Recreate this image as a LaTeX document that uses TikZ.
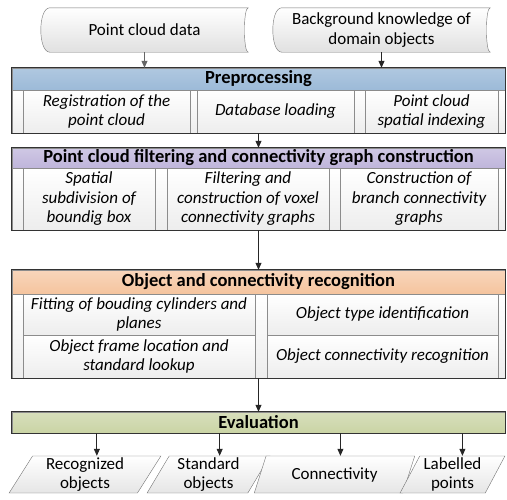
\documentclass[tikz,border=0pt]{standalone}
\usepackage{fontspec}
\setmainfont{Carlito}
\usetikzlibrary{shapes.geometric,arrows.meta,positioning}
\definecolor{prepblue}{HTML}{9CBAD8}
\definecolor{filtlilac}{HTML}{BFB5DB}
\definecolor{recogorange}{HTML}{F5C49E}
\definecolor{evalgreen}{HTML}{CAD4A5}
\newcommand{\sz}{\fontsize{17}{19.5}\selectfont}
\newcommand{\szb}{\fontsize{18.5}{21}\selectfont}

\begin{document}
\begin{tikzpicture}[x=1pt,y=-1pt,
	txt/.style={font=\sz,align=center,inner sep=0pt},
	store/.style={txt,minimum height=44pt},
	storeline/.style={draw=black!55,top color=white,bottom color=black!12},
	title/.style={txt,font=\szb\bfseries,draw=black!45,minimum width=493pt},
	cell/.style={txt,font=\sz\itshape,draw=black!45,top color=white,bottom color=black!7},
	row/.style={draw=black!45,top color=white,bottom color=black!7,minimum width=493pt,inner sep=0pt},
	frame/.style={draw=black!80,thick},
	arr/.style={thick,black!85,-{Triangle[length=7pt,width=6pt]}},
	outbox/.style={txt,trapezium,trapezium left angle=63,trapezium right angle=117,trapezium stretches=true,draw=black!55,top color=white,bottom color=black!10,minimum height=37pt}]
	\useasboundingbox (0,0) rectangle (507,499);

	\node[store,minimum width=207pt] (pcd) at (144.5,30) {};
	\node[store,minimum width=217pt] (bkg) at (381.5,30) {};
	\foreach \n in {pcd,bkg}{
		\draw[storeline] ([xshift=9pt]\n.north west) -- (\n.north east) .. controls ([xshift=-5pt]\n.north east) and ([xshift=-5pt]\n.south east) .. (\n.south east) -- ([xshift=9pt]\n.south west) .. controls ([xshift=-3pt]\n.south west) and ([xshift=-3pt]\n.north west) .. ([xshift=9pt]\n.north west);}
	\node[txt] at (pcd) {Point cloud data};
	\node[txt] at (bkg) {Background knowledge of\\domain objects};

	\node[title,minimum height=22pt,top color=prepblue!80!white,bottom color=prepblue] (prep) at (258.5,79) {Preprocessing};
	\node[row,minimum height=43pt] (prow) at (258.5,111.5) {};
	\node[cell,minimum width=167pt,minimum height=43pt] (reg) at (106.5,111.5) {Registration of the\\point cloud};
	\node[cell,minimum width=157pt,minimum height=43pt] (dbl) at (275.5,111.5) {Database loading};
	\node[cell,minimum width=133pt,minimum height=43pt] (idx) at (431.5,111.5) {Point cloud\\spatial indexing};
	\draw[frame] (prep.north west) rectangle (prow.south east);

	\node[title,minimum height=20pt,top color=filtlilac!75!white,bottom color=filtlilac] (filt) at (258.5,158) {Point cloud filtering and connectivity graph construction};
	\node[row,minimum height=62pt] (frow) at (258.5,199) {};
	\node[cell,minimum width=132pt,minimum height=62pt] (subd) at (89,199) {Spatial\\subdivision of\\boundig box};
	\node[cell,minimum width=162pt,minimum height=62pt] (vox) at (248,199) {Filtering and\\construction of voxel\\connectivity graphs};
	\node[cell,minimum width=158pt,minimum height=62pt] (brch) at (419,199) {Construction of\\branch connectivity\\graphs};
	\draw[frame] (filt.north west) rectangle (frow.south east);

	\node[title,minimum height=24pt,top color=recogorange!70!white,bottom color=recogorange] (recog) at (258.5,282) {Object and connectivity recognition};
	\node[row,minimum height=84pt] (rrow) at (258.5,336) {};
	\node[cell,minimum width=232pt,minimum height=41pt] (fit) at (139,314.5) {Fitting of bouding cylinders and\\planes};
	\node[cell,minimum width=231pt,minimum height=41pt] (otype) at (382.5,314.5) {Object type identification};
	\node[cell,minimum width=232pt,minimum height=43pt] (ofrm) at (139,356.5) {Object frame location and\\standard lookup};
	\node[cell,minimum width=231pt,minimum height=43pt] (ocon) at (382.5,356.5) {Object connectivity recognition};
	\draw[frame] (recog.north west) rectangle (rrow.south east);

	\node[title,minimum height=21pt,top color=evalgreen!75!white,bottom color=evalgreen] (eval) at (258.5,422.5) {Evaluation};
	\draw[frame] (eval.north west) rectangle (eval.south east);

	\node[outbox,minimum width=152pt] (o1) at (85,474.5) {Recognized\\objects};
	\node[outbox,minimum width=123pt] (o2) at (208.5,474.5) {Standard\\objects};
	\node[outbox,minimum width=161pt] (o3) at (334.5,474.5) {Connectivity};
	\node[outbox,minimum width=105pt] (o4) at (452.5,474.5) {Labelled\\points};

	\draw[arr,black!60] (pcd.south) -- (pcd.south |- prep.north);
	\draw[arr] (bkg.south) -- (bkg.south |- prep.north);
	\draw[arr] (prow.south) -- (filt.north);
	\draw[arr] (frow.south) -- (recog.north);
	\draw[arr] (rrow.south) -- (eval.north);
	\foreach \o in {o1,o2,o3,o4}{
		\draw[arr] (eval.south -| \o.top side) -- (\o.top side);}
\end{tikzpicture}
\end{document}
